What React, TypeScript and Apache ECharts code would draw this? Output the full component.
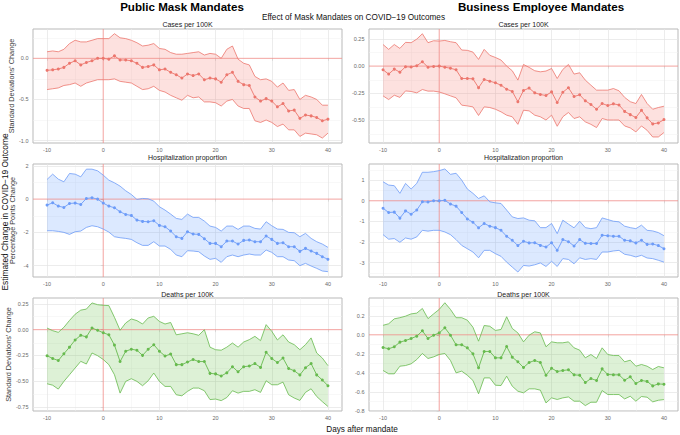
import React, { useEffect, useRef } from "react";
import * as echarts from "echarts";

const days = [-10, -9, -8, -7, -6, -5, -4, -3, -2, -1, 0, 1, 2, 3, 4, 5, 6, 7, 8, 9, 10, 11, 12, 13, 14, 15, 16, 17, 18, 19, 20, 21, 22, 23, 24, 25, 26, 27, 28, 29, 30, 31, 32, 33, 34, 35, 36, 37, 38, 39, 40];

// Cases per 100K — Public Mask Mandates
const casesPubEst = [-0.146, -0.14, -0.13, -0.11, -0.06, -0.03, -0.08, -0.05, -0.03, 0.0, 0.0, -0.01, 0.03, -0.02, -0.02, -0.03, -0.06, -0.11, -0.1, -0.08, -0.14, -0.13, -0.17, -0.2, -0.24, -0.19, -0.21, -0.19, -0.26, -0.24, -0.25, -0.29, -0.2, -0.17, -0.28, -0.32, -0.33, -0.47, -0.52, -0.49, -0.52, -0.59, -0.55, -0.64, -0.63, -0.73, -0.69, -0.7, -0.72, -0.76, -0.74];
const casesPubHi = [0.08, 0.09, 0.08, 0.11, 0.18, 0.22, 0.2, 0.2, 0.22, 0.24, 0.24, 0.24, 0.3, 0.25, 0.24, 0.22, 0.19, 0.15, 0.16, 0.18, 0.12, 0.11, 0.07, 0.05, 0.05, 0.06, 0.07, 0.08, 0.04, 0.06, 0.05, 0.0, 0.11, 0.15, -0.01, -0.06, -0.08, -0.22, -0.26, -0.25, -0.28, -0.35, -0.3, -0.39, -0.38, -0.5, -0.45, -0.47, -0.5, -0.57, -0.57];
const casesPubLo = [-0.38, -0.37, -0.36, -0.33, -0.32, -0.3, -0.34, -0.3, -0.28, -0.26, -0.26, -0.26, -0.25, -0.28, -0.29, -0.3, -0.34, -0.38, -0.37, -0.34, -0.39, -0.41, -0.45, -0.48, -0.51, -0.45, -0.48, -0.47, -0.53, -0.53, -0.54, -0.58, -0.52, -0.5, -0.58, -0.61, -0.61, -0.76, -0.78, -0.75, -0.78, -0.83, -0.8, -0.87, -0.87, -0.95, -0.91, -0.92, -0.93, -0.97, -0.91];

// Cases per 100K — Business Employee Mandates
const casesBusEst = [-0.034, -0.074, -0.028, -0.056, -0.006, -0.009, 0.003, 0.04, -0.01, -0.003, 0.0, -0.01, -0.02, -0.034, -0.115, -0.115, -0.118, -0.2, -0.124, -0.14, -0.155, -0.177, -0.214, -0.235, -0.33, -0.226, -0.204, -0.248, -0.263, -0.273, -0.239, -0.338, -0.242, -0.201, -0.282, -0.266, -0.322, -0.356, -0.4, -0.347, -0.366, -0.35, -0.36, -0.42, -0.45, -0.477, -0.409, -0.48, -0.536, -0.527, -0.496];
const casesBusHi = [0.2, 0.155, 0.2, 0.164, 0.22, 0.217, 0.25, 0.3, 0.217, 0.235, 0.232, 0.238, 0.226, 0.217, 0.149, 0.146, 0.13, 0.062, 0.155, 0.1, 0.08, 0.056, 0.0, -0.043, -0.13, 0.015, -0.012, -0.043, -0.053, -0.046, -0.022, -0.115, -0.031, 0.015, -0.074, -0.062, -0.13, -0.177, -0.223, -0.223, -0.223, -0.208, -0.229, -0.29, -0.33, -0.347, -0.263, -0.347, -0.4, -0.384, -0.372];
const casesBusLo = [-0.276, -0.31, -0.27, -0.29, -0.23, -0.235, -0.248, -0.217, -0.232, -0.232, -0.24, -0.257, -0.276, -0.294, -0.362, -0.369, -0.378, -0.458, -0.378, -0.384, -0.4, -0.424, -0.455, -0.47, -0.54, -0.409, -0.415, -0.455, -0.47, -0.5, -0.455, -0.558, -0.47, -0.43, -0.486, -0.47, -0.517, -0.54, -0.57, -0.486, -0.5, -0.5, -0.5, -0.555, -0.573, -0.61, -0.555, -0.595, -0.657, -0.657, -0.616];

// Hospitalization proportion — Public
const hospPubEst = [-0.36, -0.22, -0.42, -0.5, -0.26, -0.24, -0.32, 0.04, 0.08, 0.0, -0.24, -0.42, -0.52, -0.76, -0.92, -0.98, -1.26, -1.34, -1.36, -1.3, -1.58, -1.66, -1.92, -2.26, -2.36, -1.96, -2.1, -2.12, -2.38, -2.66, -2.66, -2.86, -2.52, -2.52, -2.7, -2.48, -2.46, -2.56, -2.56, -2.22, -2.42, -2.66, -2.62, -2.86, -2.86, -3.14, -2.96, -3.12, -3.26, -3.46, -3.62];
const hospPubHi = [1.18, 1.5, 1.2, 1.04, 1.54, 1.5, 1.34, 1.8, 1.8, 1.7, 1.44, 1.14, 0.98, 0.78, 0.5, 0.28, -0.02, 0.04, 0.02, -0.12, -0.46, -0.66, -0.9, -1.16, -1.22, -0.9, -1.1, -1.1, -1.32, -1.62, -1.7, -1.92, -1.62, -1.62, -1.82, -1.62, -1.62, -1.76, -1.8, -1.36, -1.6, -1.8, -1.82, -2.0, -2.02, -2.26, -2.06, -2.36, -2.56, -2.7, -2.9];
const hospPubLo = [-1.9, -1.9, -1.94, -2.0, -2.12, -1.96, -1.92, -1.7, -1.6, -1.66, -1.8, -1.98, -2.26, -2.32, -2.36, -2.42, -2.62, -2.78, -2.78, -2.56, -2.82, -2.82, -3.02, -3.36, -3.46, -3.1, -3.12, -3.16, -3.42, -3.62, -3.56, -3.8, -3.46, -3.36, -3.46, -3.36, -3.3, -3.36, -3.36, -3.06, -3.2, -3.46, -3.46, -3.66, -3.7, -4.0, -3.86, -4.02, -4.16, -4.32, -4.36];

// Hospitalization proportion — Business
const hospBusEst = [-0.36, -0.57, -0.55, -0.84, -0.49, -0.65, -0.45, -0.05, -0.06, 0.0, 0.0, 0.02, -0.16, -0.26, -0.57, -0.88, -1.04, -1.31, -1.1, -1.23, -1.3, -1.43, -1.72, -1.91, -2.17, -1.96, -2.04, -2.03, -2.16, -2.24, -2.03, -2.4, -1.88, -1.98, -2.19, -1.88, -2.06, -2.07, -2.07, -1.67, -1.69, -1.72, -1.72, -1.91, -1.94, -2.04, -1.91, -2.11, -2.09, -2.17, -2.32];
const hospBusHi = [0.92, 0.76, 0.73, 0.36, 0.84, 0.57, 0.84, 1.38, 1.38, 1.41, 1.46, 1.54, 1.28, 1.33, 1.0, 0.57, 0.36, 0.11, 0.24, -0.05, -0.1, -0.13, -0.45, -0.78, -0.86, -0.83, -0.94, -0.97, -1.3, -1.3, -1.1, -1.59, -0.94, -1.13, -1.31, -0.99, -1.3, -1.35, -1.3, -0.83, -0.91, -0.99, -1.02, -1.23, -1.3, -1.35, -1.18, -1.43, -1.46, -1.54, -1.69];
const hospBusLo = [-1.64, -1.86, -1.83, -2.01, -1.8, -1.86, -1.75, -1.43, -1.47, -1.43, -1.43, -1.51, -1.64, -1.88, -2.16, -2.32, -2.48, -2.76, -2.4, -2.4, -2.56, -2.69, -2.97, -3.21, -3.45, -3.13, -3.16, -3.1, -3.01, -3.18, -2.93, -3.18, -2.8, -2.84, -3.05, -2.76, -2.84, -2.8, -2.84, -2.48, -2.48, -2.43, -2.4, -2.59, -2.64, -2.72, -2.64, -2.77, -2.8, -2.88, -2.97];

// Deaths per 100K — Public
const deathsPubEst = [-0.253, -0.28, -0.3, -0.234, -0.17, -0.1, -0.055, -0.07, 0.016, -0.006, -0.03, -0.05, -0.15, -0.31, -0.21, -0.19, -0.2, -0.25, -0.19, -0.146, -0.21, -0.256, -0.237, -0.34, -0.34, -0.315, -0.29, -0.31, -0.31, -0.425, -0.43, -0.45, -0.42, -0.36, -0.41, -0.36, -0.354, -0.33, -0.367, -0.22, -0.28, -0.32, -0.276, -0.377, -0.4, -0.44, -0.37, -0.33, -0.44, -0.49, -0.545];
const deathsPubHi = [0.016, -0.01, -0.026, 0.023, 0.09, 0.15, 0.19, 0.2, 0.26, 0.243, 0.237, 0.234, 0.12, -0.006, 0.065, 0.104, 0.088, 0.055, 0.114, 0.13, 0.08, 0.055, 0.07, -0.05, -0.04, -0.03, -0.04, -0.055, 0.0, -0.17, -0.195, -0.2, -0.17, -0.13, -0.17, -0.12, -0.097, -0.065, -0.107, 0.049, -0.016, -0.1, -0.05, -0.12, -0.146, -0.195, -0.146, -0.08, -0.227, -0.276, -0.35];
const deathsPubLo = [-0.526, -0.54, -0.578, -0.503, -0.438, -0.373, -0.308, -0.334, -0.227, -0.253, -0.29, -0.34, -0.438, -0.617, -0.503, -0.477, -0.503, -0.545, -0.497, -0.422, -0.503, -0.552, -0.552, -0.633, -0.643, -0.6, -0.568, -0.568, -0.594, -0.68, -0.675, -0.69, -0.66, -0.594, -0.617, -0.6, -0.6, -0.584, -0.61, -0.497, -0.536, -0.536, -0.51, -0.633, -0.665, -0.688, -0.61, -0.575, -0.65, -0.7, -0.747];

// Deaths per 100K — Business
const deathsBusEst = [-0.133, -0.147, -0.126, -0.077, -0.06, -0.039, -0.014, 0.042, -0.039, -0.004, 0.02, 0.074, -0.004, -0.105, -0.105, -0.137, -0.2, -0.347, -0.175, -0.175, -0.242, -0.242, -0.123, -0.235, -0.284, -0.344, -0.291, -0.27, -0.291, -0.425, -0.351, -0.386, -0.375, -0.368, -0.421, -0.425, -0.502, -0.46, -0.48, -0.358, -0.417, -0.421, -0.421, -0.477, -0.442, -0.512, -0.48, -0.49, -0.537, -0.516, -0.52];
const deathsBusHi = [0.1, 0.116, 0.168, 0.18, 0.196, 0.22, 0.228, 0.277, 0.17, 0.22, 0.267, 0.337, 0.267, 0.18, 0.18, 0.154, 0.08, -0.067, 0.098, 0.09, 0.046, 0.056, 0.19, 0.067, 0.02, -0.074, -0.004, 0.032, 0.02, -0.126, -0.074, -0.084, -0.084, -0.074, -0.137, -0.161, -0.242, -0.207, -0.249, -0.137, -0.207, -0.218, -0.218, -0.284, -0.267, -0.33, -0.312, -0.33, -0.365, -0.333, -0.347];
const deathsBusLo = [-0.375, -0.41, -0.41, -0.33, -0.323, -0.305, -0.26, -0.196, -0.249, -0.232, -0.207, -0.196, -0.27, -0.4, -0.382, -0.425, -0.48, -0.62, -0.453, -0.453, -0.53, -0.533, -0.435, -0.54, -0.593, -0.61, -0.568, -0.568, -0.582, -0.716, -0.663, -0.68, -0.663, -0.653, -0.698, -0.698, -0.744, -0.709, -0.709, -0.586, -0.628, -0.628, -0.628, -0.674, -0.646, -0.698, -0.649, -0.656, -0.705, -0.688, -0.681];

const xTicks = [-10, 0, 10, 20, 30, 40];
const xMinor = [-5, 5, 15, 25, 35];

const FONT = "'Liberation Sans', Arial, Helvetica, sans-serif";
const RED = { line: "#EC766D", fill: "rgba(248,118,109,0.22)" };
const BLUE = { line: "#6D9CF8", fill: "rgba(97,156,255,0.22)" };
const GREEN = { line: "#67BA4E", fill: "rgba(100,190,70,0.22)" };
const ZERO_LINE = "#F08C88";
const X_MIN = -12.5;
const X_MAX = 42.5;

const panels = [
  { title: "Cases per 100K", est: casesPubEst, hi: casesPubHi, lo: casesPubLo, c: RED, yMin: -1.03, yMax: 0.357, ticks: [-1, -0.5, 0], minor: [-0.75, -0.25, 0.25], dec: 1, yName: "Standard Deviations' Change" },
  { title: "Cases per 100K", est: casesBusEst, hi: casesBusHi, lo: casesBusLo, c: RED, yMin: -0.713, yMax: 0.344, ticks: [-0.5, -0.25, 0, 0.25], minor: [-0.625, -0.375, -0.125, 0.125], dec: 2, yName: "" },
  { title: "Hospitalization proportion", est: hospPubEst, hi: hospPubHi, lo: hospPubLo, c: BLUE, yMin: -4.68, yMax: 2.11, ticks: [-4, -2, 0, 2], minor: [-3, -1, 1], dec: 0, yName: "Percentage Points Change" },
  { title: "Hospitalization proportion", est: hospBusEst, hi: hospBusHi, lo: hospBusLo, c: BLUE, yMin: -3.69, yMax: 1.78, ticks: [-3, -2, -1, 0, 1], minor: [-3.5, -2.5, -1.5, -0.5, 0.5, 1.5], dec: 0, yName: "" },
  { title: "Deaths per 100K", est: deathsPubEst, hi: deathsPubHi, lo: deathsPubLo, c: GREEN, yMin: -0.791, yMax: 0.308, ticks: [-0.75, -0.5, -0.25, 0, 0.25], minor: [-0.625, -0.375, -0.125, 0.125], dec: 2, yName: "Standard Deviations' Change" },
  { title: "Deaths per 100K", est: deathsBusEst, hi: deathsBusHi, lo: deathsBusLo, c: GREEN, yMin: -0.801, yMax: 0.387, ticks: [-0.8, -0.6, -0.4, -0.2, 0, 0.2], minor: [-0.7, -0.5, -0.3, -0.1, 0.1, 0.3], dec: 1, yName: "" },
];

const colLeft = [33, 369];
const colWidth = 309;
const rowTop = [29, 164, 298];
const rowHeight = [114, 113, 113];
const titleY = [24, 157, 294];

export default function App() {
  const ref = useRef<HTMLDivElement>(null);
  useEffect(() => {
    if (!ref.current) return;
    const chart = echarts.init(ref.current, undefined, { renderer: "svg" });
    const grid: any[] = [];
    const xAxis: any[] = [];
    const yAxis: any[] = [];
    const series: any[] = [];
    const graphic: any[] = [];

    panels.forEach((p, i) => {
      const col = i % 2;
      const row = Math.floor(i / 2);
      grid.push({
        left: colLeft[col], top: rowTop[row], width: colWidth, height: rowHeight[row],
        show: true, borderColor: "#b9b9b9", borderWidth: 1, backgroundColor: "#fff",
      });
      xAxis.push({
        type: "value", gridIndex: i, min: X_MIN, max: X_MAX,
        axisLine: { show: false }, splitLine: { show: false },
        axisTick: { show: true, length: 2.5, lineStyle: { color: "#b0b0b0", width: 0.8 }, customValues: xTicks },
        axisLabel: { customValues: xTicks, fontSize: 5.5, color: "#6a6a6a", margin: 3.5, fontFamily: FONT },
      });
      yAxis.push({
        type: "value", gridIndex: i, min: p.yMin, max: p.yMax,
        axisLine: { show: false }, splitLine: { show: false },
        axisTick: { show: true, length: 2.5, lineStyle: { color: "#b0b0b0", width: 0.8 }, customValues: p.ticks },
        axisLabel: { customValues: p.ticks, fontSize: 5.5, color: "#6a6a6a", margin: 4.5, fontFamily: FONT, formatter: (v: number) => v.toFixed(p.dec) },
        name: p.yName, nameLocation: "middle", nameGap: 17.5,
        nameTextStyle: { fontSize: 7.3, color: "#3a3a3a", fontFamily: FONT },
      });
      const gridLines = [
        ...p.minor.map((v) => ({ yAxis: v, lineStyle: { color: "#f1f1f1", width: 0.5, type: "solid" } })),
        ...xMinor.map((v) => ({ xAxis: v, lineStyle: { color: "#f1f1f1", width: 0.5, type: "solid" } })),
        ...p.ticks.filter((v) => v !== 0).map((v) => ({ yAxis: v, lineStyle: { color: "#e4e4e4", width: 0.7, type: "solid" } })),
        ...xTicks.filter((v) => v !== 0).map((v) => ({ xAxis: v, lineStyle: { color: "#e4e4e4", width: 0.7, type: "solid" } })),
      ];
      // invisible carrier for grid lines
      series.push({
        type: "line", xAxisIndex: i, yAxisIndex: i, z: 1, silent: true,
        data: days.map((d, k) => [d, p.est[k]]), symbol: "none",
        lineStyle: { opacity: 0 },
        markLine: { silent: true, symbol: "none", z: 1, label: { show: false }, animation: false, data: gridLines },
      });
      // confidence band + zero reference lines
      series.push({
        type: "custom", xAxisIndex: i, yAxisIndex: i, z: 2, silent: true,
        data: days.map((d, k) => [d, p.lo[k], p.hi[k]]),
        encode: { x: 0, y: [1, 2] },
        renderItem: (params: any, api: any) => {
          if (params.dataIndex !== 0) return null;
          const up = days.map((d, k) => api.coord([d, p.hi[k]]));
          const dn = days.map((d, k) => api.coord([d, p.lo[k]]));
          const h0 = api.coord([X_MIN, 0]);
          const h1 = api.coord([X_MAX, 0]);
          const v0 = api.coord([0, p.yMin]);
          const v1 = api.coord([0, p.yMax]);
          return {
            type: "group",
            children: [
              { type: "polygon", shape: { points: up.concat(dn.slice().reverse()) }, style: { fill: p.c.fill, stroke: "none" } },
              { type: "line", shape: { x1: h0[0], y1: h0[1], x2: h1[0], y2: h1[1] }, style: { stroke: ZERO_LINE, lineWidth: 0.8 } },
              { type: "line", shape: { x1: v0[0], y1: v0[1], x2: v1[0], y2: v1[1] }, style: { stroke: ZERO_LINE, lineWidth: 0.8 } },
              { type: "polyline", shape: { points: up }, style: { stroke: p.c.line, lineWidth: 0.8, fill: "none" } },
              { type: "polyline", shape: { points: dn }, style: { stroke: p.c.line, lineWidth: 0.8, fill: "none" } },
            ],
          };
        },
      });
      // point estimates
      series.push({
        type: "line", xAxisIndex: i, yAxisIndex: i,
        data: days.map((d, k) => [d, p.est[k]]), symbol: "circle", symbolSize: 3, silent: true, z: 4,
        itemStyle: { color: p.c.line }, lineStyle: { color: p.c.line, width: 0.9 },
      });
      graphic.push({
        type: "text", x: colLeft[col] + colWidth / 2, y: titleY[row],
        style: { text: p.title, fontSize: 7, fontFamily: FONT, fill: "#1a1a1a", align: "center", verticalAlign: "middle" },
      });
    });

    graphic.push(
      { type: "text", x: 182, y: 6, style: { text: "Public Mask Mandates", fontSize: 11.6, fontWeight: "bold", fontFamily: FONT, fill: "#000", align: "center", verticalAlign: "middle" } },
      { type: "text", x: 541, y: 6, style: { text: "Business Employee Mandates", fontSize: 11.6, fontWeight: "bold", fontFamily: FONT, fill: "#000", align: "center", verticalAlign: "middle" } },
      { type: "text", x: 353.5, y: 17.3, style: { text: "Effect of Mask Mandates on COVID\u221219 Outcomes", fontSize: 8.2, fontFamily: FONT, fill: "#111", align: "center", verticalAlign: "middle" } },
      { type: "text", x: 362, y: 429, style: { text: "Days after mandate", fontSize: 8.2, fontFamily: FONT, fill: "#111", align: "center", verticalAlign: "middle" } },
      { type: "text", x: 5, y: 212, rotation: Math.PI / 2, style: { text: "Estimated Change in COVID\u221219 Outcome", fontSize: 8.4, fontFamily: FONT, fill: "#111", align: "center", verticalAlign: "middle" } },
    );

    chart.setOption({
      animation: false,
      backgroundColor: "#fff",
      grid, xAxis, yAxis, series, graphic,
    });
    return () => chart.dispose();
  }, []);
  return <div ref={ref} style={{ position: "absolute", left: 0, top: 0, width: 680, height: 435 }} />;
}
